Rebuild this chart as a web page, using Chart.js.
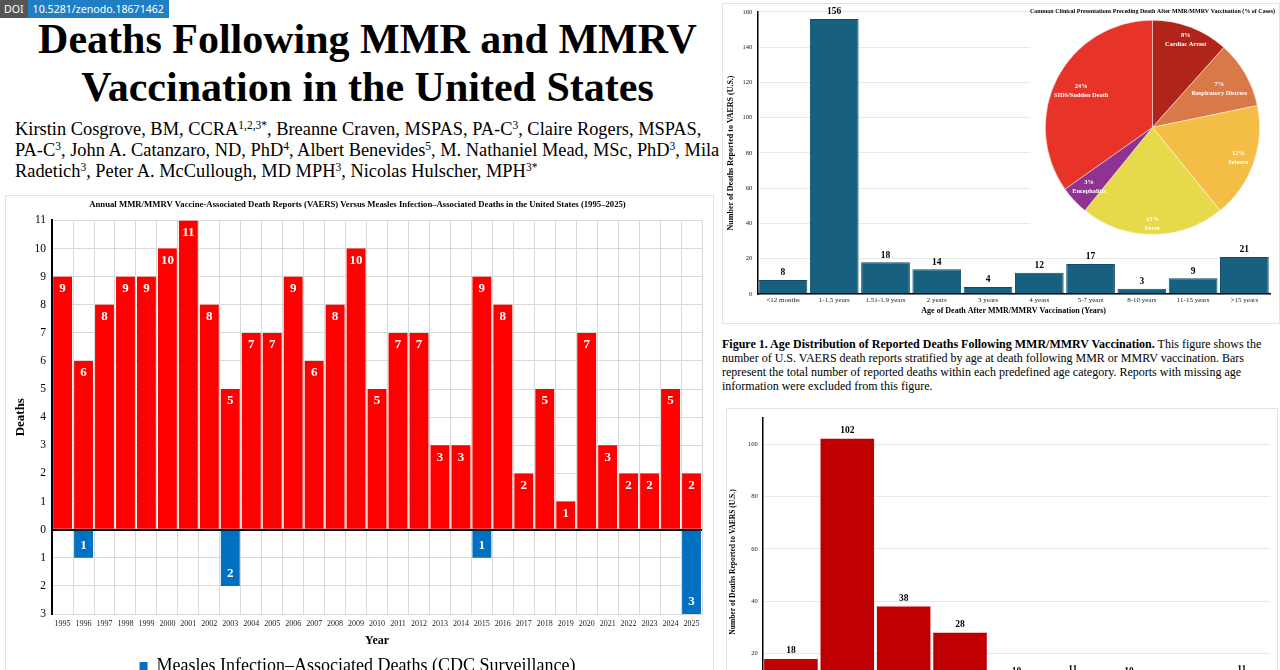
<!DOCTYPE html>
<html>
<head>
<meta charset="utf-8">
<script src="https://cdn.jsdelivr.net/npm/chart.js@4.4.1/dist/chart.umd.min.js"></script>
<style>
  html, body { margin: 0; padding: 0; width: 1280px; height: 670px; overflow: hidden; background: #fff; }
  body { position: relative; font-family: "Liberation Serif", "Times New Roman", serif; color: #000; }
  .doi { position: absolute; left: 0; top: 0; height: 18px; display: flex; font: 10.6px "Noto Sans", "DejaVu Sans", sans-serif; line-height: 18px; color: #fff; }
  .doi .k { background: #555; padding: 0 4px; }
  .doi .v { background: #1f7fc4; padding: 0 5px; }
  h1 { position: absolute; left: 0; top: 15px; width: 735px; margin: 0; text-align: center; font-size: 42px; line-height: 48px; font-weight: bold; }
  .authors { position: absolute; left: 15px; top: 119px; font-size: 18.4px; line-height: 21px; white-space: nowrap; }
  .authors sup { font-size: 11.5px; line-height: 0; vertical-align: 6px; }
  .panel { position: absolute; border: 1px solid #e3e3e3; background: #fff; }
  canvas { position: absolute; }
  .caption { position: absolute; left: 722px; top: 337px; font-size: 12px; line-height: 14px; white-space: nowrap; }
</style>
</head>
<body>
<div class="doi"><span class="k">DOI</span><span class="v">10.5281/zenodo.18671462</span></div>
<h1>Deaths Following MMR and MMRV<br>Vaccination in the United States</h1>
<div class="authors">
  Kirstin Cosgrove, BM, CCRA<sup>1,2,3*</sup>, Breanne Craven, MSPAS, PA-C<sup>3</sup>, Claire Rogers, MSPAS,<br>
  PA-C<sup>3</sup>, John A. Catanzaro, ND, PhD<sup>4</sup>, Albert Benevides<sup>5</sup>, M. Nathaniel Mead, MSc, PhD<sup>3</sup>, Mila<br>
  Radetich<sup>3</sup>, Peter A. McCullough, MD MPH<sup>3</sup>, Nicolas Hulscher, MPH<sup>3*</sup>
</div>

<div class="panel" style="left:5px; top:195px; width:707px; height:520px;"></div>
<canvas id="annualChart" style="left:6px; top:196px; width:706px; height:516px;"></canvas>

<div class="panel" style="left:722px; top:3px; width:556px; height:319px;"></div>
<canvas id="ageChart" style="left:722px; top:3px; width:553px; height:316px;"></canvas>
<canvas id="pieChart" style="left:1030px; top:4px; width:245px; height:240px; background:#fff;"></canvas>

<div class="caption">
  <b>Figure 1. Age Distribution of Reported Deaths Following MMR/MMRV Vaccination.</b> This figure shows the<br>
  number of U.S. VAERS death reports stratified by age at death following MMR or MMRV vaccination. Bars<br>
  represent the total number of reported deaths within each predefined age category. Reports with missing age<br>
  information were excluded from this figure.
</div>

<div class="panel" style="left:726px; top:408px; width:550px; height:320px;"></div>
<canvas id="secondChart" style="left:727px; top:409px; width:549px; height:306px;"></canvas>

<script>
// Annual chart (1995-2025)
const years = ['1995','1996','1997','1998','1999','2000','2001','2002','2003','2004','2005','2006','2007','2008','2009','2010',
  '2011','2012','2013','2014','2015','2016','2017','2018','2019','2020','2021','2022','2023','2024','2025'];
const vaersDeaths = [9,6,8,9,9,10,11,8,5,7,7,9,6,8,10,5,7,7,3,3,9,8,2,5,1,7,3,2,2,5,2];
const measlesDeaths = [0,1,0,0,0,0,0,0,2,0,0,0,0,0,0,0,0,0,0,0,1,0,0,0,0,0,0,0,0,0,3];
const deathTicks = [-3,-2,-1,0,1,2,3,4,5,6,7,8,9,10,11];

// Age at death (top right)
const ageGroups = ['<12 months','1-1.5 years','1.51-1.9 years','2 years','3 years','4 years','5-7 years','8-10 years','11-15 years','>15 years'];
const ageDeaths = [8,156,18,14,4,12,17,3,9,21];

// Clinical presentations pie (% of cases)
const presentations = ['Cardiac Arrest','Respiratory Distress','Seizure','Fever','Encephalitis','SIDS/Sudden Death'];
const presentationPct = [8,7,12,15,3,24];

// Second figure (partly visible at bottom right)
const secondGroups = ['1','2','3','4','5','6','7','8','9'];
const secondDeaths = [18,102,38,28,10,11,10,5,11];

Chart.defaults.font.family = '"Liberation Serif", "Times New Roman", serif';
Chart.defaults.color = '#000';
Chart.defaults.animation = false;

const serif = '"Liberation Serif", "Times New Roman", serif';

// value labels on bars: offset > 0 means inside toward base, < 0 means outside
const valueLabels = {
  id: 'valueLabels',
  afterDatasetsDraw(chart, args, opts) {
    const ctx = chart.ctx;
    ctx.save();
    ctx.font = opts.font;
    ctx.fillStyle = opts.color;
    ctx.textAlign = 'center';
    ctx.textBaseline = 'middle';
    chart.data.datasets.forEach((ds, di) => {
      const meta = chart.getDatasetMeta(di);
      meta.data.forEach((bar, i) => {
        const v = ds.data[i];
        if (v === null || v === 0) return;
        const dir = v > 0 ? 1 : -1;
        ctx.fillText(String(Math.abs(v)), bar.x, bar.y + dir * opts.offset);
      });
    });
    ctx.restore();
  }
};

const pieLabels = {
  id: 'pieLabels',
  afterDatasetsDraw(chart, args, opts) {
    const ctx = chart.ctx;
    const meta = chart.getDatasetMeta(0);
    ctx.save();
    ctx.font = opts.font;
    ctx.fillStyle = '#fff';
    ctx.textAlign = 'center';
    ctx.textBaseline = 'middle';
    meta.data.forEach((arc, i) => {
      const p = arc.getProps(['x', 'y', 'startAngle', 'endAngle', 'outerRadius'], true);
      const mid = (p.startAngle + p.endAngle) / 2;
      const r = p.outerRadius * opts.radius[i];
      const lx = p.x + Math.cos(mid) * r;
      const ly = p.y + Math.sin(mid) * r;
      ctx.fillText(chart.data.datasets[0].data[i] + '%', lx, ly - 4.5);
      ctx.fillText(chart.data.labels[i], lx, ly + 4.5);
    });
    ctx.restore();
  }
};

// ---- annual VAERS vs measles chart ----
new Chart(document.getElementById('annualChart'), {
  type: 'bar',
  data: {
    labels: years,
    datasets: [
      {
        label: 'Measles Infection\u2013Associated Deaths (CDC Surveillance)',
        data: measlesDeaths.map(v => v ? -v : null),
        backgroundColor: '#0070c0',
        borderWidth: 0,
        barPercentage: 0.9,
        categoryPercentage: 1
      },
      {
        label: 'VAERS-Reported Deaths Following MMR/MMRV Vaccination',
        data: vaersDeaths,
        backgroundColor: '#ff0000',
        borderWidth: 0,
        barPercentage: 0.9,
        categoryPercentage: 1
      }
    ]
  },
  options: {
    responsive: false,
    layout: { padding: { left: 7, right: 10, top: 0, bottom: 0 } },
    scales: {
      x: {
        stacked: true,
        grid: { color: '#d9d9d9', drawTicks: false },
        border: { color: '#d9d9d9' },
        ticks: { autoSkip: false, maxRotation: 0, padding: 5, color: '#222', font: { size: 8 } },
        title: { display: true, text: 'Year', font: { size: 12, weight: 'bold' }, padding: { top: 0, bottom: 0 } }
      },
      y: {
        stacked: true,
        min: -3,
        max: 11,
        afterBuildTicks: axis => { axis.ticks = deathTicks.map(v => ({ value: v })); },
        grid: {
          drawTicks: false,
          color: c => c.tick.value === 0 ? '#000' : '#d9d9d9',
          lineWidth: c => c.tick.value === 0 ? 2 : 1
        },
        border: { color: '#000', width: 2 },
        ticks: { padding: 6, font: { size: 11.5 }, callback: v => Math.abs(v) },
        title: { display: true, text: 'Deaths', font: { size: 13, weight: 'bold' }, padding: { top: 0, bottom: 0 } }
      }
    },
    plugins: {
      title: {
        display: true,
        text: 'Annual MMR/MMRV Vaccine-Associated Death Reports (VAERS) Versus Measles Infection\u2013Associated Deaths in the United States (1995\u20132025)',
        font: { size: 8.7, weight: 'bold' },
        padding: { top: 4, bottom: 10 }
      },
      legend: {
        position: 'bottom',
        labels: { boxWidth: 8, boxHeight: 8, font: { size: 18 }, padding: 9 }
      },
      tooltip: { enabled: false },
      valueLabels: { font: 'bold 13px ' + serif, color: '#fff', offset: 12 }
    }
  },
  plugins: [valueLabels]
});

// ---- age at death chart ----
new Chart(document.getElementById('ageChart'), {
  type: 'bar',
  data: {
    labels: ageGroups,
    datasets: [{
      label: 'Deaths',
      data: ageDeaths,
      backgroundColor: '#17607f',
      borderColor: '#0f4c68',
      borderWidth: 1,
      barPercentage: 0.95,
      categoryPercentage: 1
    }]
  },
  options: {
    responsive: false,
    layout: { padding: { left: 4, right: 5, top: 2, bottom: 0 } },
    scales: {
      x: {
        grid: { display: false, drawTicks: false },
        border: { color: '#000', width: 1.5 },
        ticks: { autoSkip: false, maxRotation: 0, padding: 2, color: '#222', font: { size: 7 } },
        title: { display: true, text: 'Age of Death After MMR/MMRV Vaccination (Years)', font: { size: 8, weight: 'bold' }, padding: { top: 0, bottom: 3 } }
      },
      y: {
        min: 0,
        max: 160,
        ticks: { stepSize: 20, padding: 5, color: '#222', font: { size: 6.5 } },
        grid: { color: '#e8e8e8', drawTicks: false },
        border: { color: '#000', width: 1.5 },
        title: { display: true, text: 'Number of Deaths Reported to VAERS (U.S.)', font: { size: 8, weight: 'bold' }, padding: { top: 0, bottom: 2 } }
      }
    },
    plugins: {
      legend: { display: false },
      tooltip: { enabled: false },
      valueLabels: { font: 'bold 9.5px ' + serif, color: '#000', offset: -7 }
    }
  },
  plugins: [valueLabels]
});

// ---- clinical presentations pie ----
new Chart(document.getElementById('pieChart'), {
  type: 'pie',
  data: {
    labels: presentations,
    datasets: [{
      data: presentationPct,
      backgroundColor: ['#b12419', '#d97947', '#f4bd45', '#e6da4b', '#8e3391', '#e83428'],
      borderColor: 'rgba(255,255,255,0.45)',
      borderWidth: 1
    }]
  },
  options: {
    responsive: false,
    layout: { padding: { top: 0, bottom: 9 } },
    plugins: {
      title: {
        display: true,
        text: 'Common Clinical Presentations Preceding Death After MMR/MMRV Vaccination (% of Cases)',
        font: { size: 6.4, weight: 'bold' },
        padding: { top: 4, bottom: 4 }
      },
      legend: { display: false },
      tooltip: { enabled: false },
      pieLabels: { font: 'bold 6.4px ' + serif, radius: [0.87, 0.72, 0.85, 0.9, 0.81, 0.75] }
    }
  },
  plugins: [pieLabels]
});

// ---- second figure (cut off by the page edge) ----
new Chart(document.getElementById('secondChart'), {
  type: 'bar',
  data: {
    labels: secondGroups,
    datasets: [{
      label: 'Deaths',
      data: secondDeaths,
      backgroundColor: '#c00000',
      borderWidth: 0,
      barPercentage: 0.95,
      categoryPercentage: 1
    }]
  },
  options: {
    responsive: false,
    layout: { padding: { left: 2, right: 6, top: 6, bottom: 0 } },
    scales: {
      x: {
        display: true,
        grid: { display: false, drawTicks: false },
        border: { color: '#000', width: 1.5 },
        ticks: { display: false }
      },
      y: {
        min: 0,
        max: 110,
        ticks: { stepSize: 20, includeBounds: false, padding: 5, color: '#222', font: { size: 6.5 } },
        grid: { color: '#e8e8e8', drawTicks: false },
        border: { color: '#000', width: 1.5 },
        title: { display: true, text: 'Number of Deaths Reported to VAERS (U.S.)', font: { size: 7.5, weight: 'bold' }, padding: { top: 0, bottom: 5 } }
      }
    },
    plugins: {
      legend: { display: false },
      tooltip: { enabled: false },
      valueLabels: { font: 'bold 9.5px ' + serif, color: '#000', offset: -8 }
    }
  },
  plugins: [valueLabels]
});
</script>
</body>
</html>
